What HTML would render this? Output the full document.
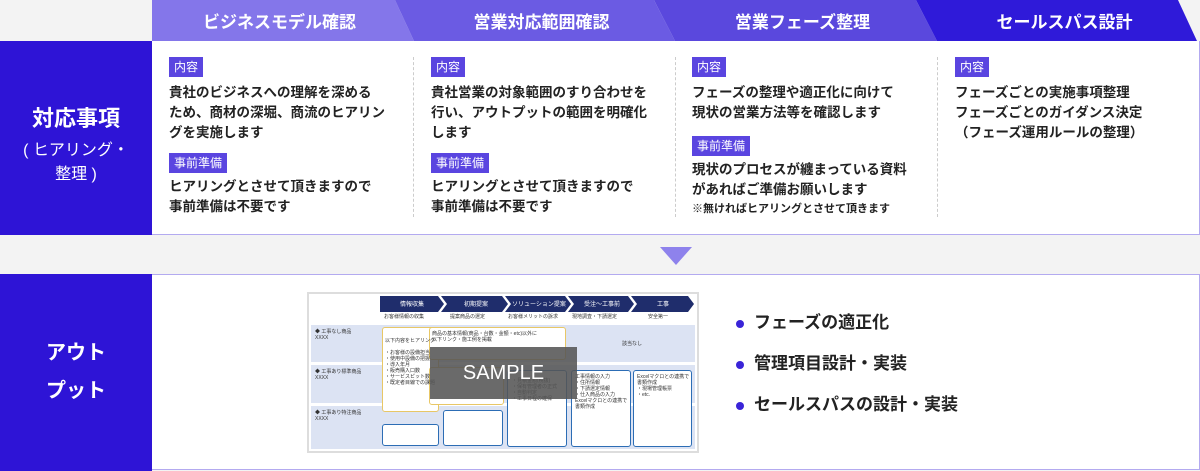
<!DOCTYPE html>
<html><head><meta charset="utf-8"><style>
*{margin:0;padding:0;box-sizing:border-box}
body{width:1200px;height:471px;background:#f3f3f3;font-family:"Liberation Sans","Noto Sans CJK JP",sans-serif;position:relative;overflow:hidden;color:#222}
.a{position:absolute}
.tab{position:absolute;top:0;height:41px;color:#fff;font-weight:bold;font-size:17px;display:flex;align-items:center;justify-content:center}
.badge{position:absolute;background:#5a45e0;color:#fff;font-size:12px;height:20px;line-height:20px;padding:0 5px}
.t{position:absolute;font-size:13.5px;font-weight:bold;line-height:20px;color:#222;white-space:nowrap}
.dv{position:absolute;top:57px;height:160px;border-left:1px dashed #ccc}
.s{position:absolute;font-size:5px;line-height:6px;color:#333;white-space:nowrap}
.card{position:absolute;background:#fff;border-radius:3px}
</style></head><body>
<svg class="a" style="left:0;top:0" width="1200" height="41">
<polygon points="152,0 395,0 414,41 152,41" fill="#8476ea"/>
<polygon points="395,0 654,0 675,41 414,41" fill="#6b5be3"/>
<polygon points="654,0 916,0 937,41 675,41" fill="#5a48dd"/>
<polygon points="916,0 1178,0 1197,41 937,41" fill="#2f1ad9"/>
</svg>
<div class="tab" style="left:152px;width:255px">ビジネスモデル確認</div>
<div class="tab" style="left:414px;width:255px">営業対応範囲確認</div>
<div class="tab" style="left:675px;width:255px">営業フェーズ整理</div>
<div class="tab" style="left:937px;width:255px">セールスパス設計</div>

<div class="a" style="left:0;top:41px;width:152px;height:194px;background:#2e14d6;color:#fff;text-align:center">
<div style="font-size:22px;font-weight:bold;margin-top:60px">対応事項</div>
<div style="font-size:16px;line-height:24px;margin-top:6px">( ヒアリング・<br>整理 )</div></div>
<div class="a" style="left:152px;top:41px;width:1048px;height:194px;background:#fff;border-bottom:1px solid #b3aaf0;border-right:1px solid #b3aaf0"></div>
<div class="dv" style="left:413px"></div><div class="dv" style="left:675px"></div><div class="dv" style="left:937px"></div>

<div class="badge" style="left:169px;top:57px">内容</div>
<div class="t" style="left:169px;top:83px">貴社のビジネスへの理解を深める<br>ため、商材の深堀、商流のヒアリン<br>グを実施します</div>
<div class="badge" style="left:169px;top:153px">事前準備</div>
<div class="t" style="left:169px;top:177px">ヒアリングとさせて頂きますので<br>事前準備は不要です</div>

<div class="badge" style="left:431px;top:57px">内容</div>
<div class="t" style="left:431px;top:83px">貴社営業の対象範囲のすり合わせを<br>行い、アウトプットの範囲を明確化<br>します</div>
<div class="badge" style="left:431px;top:153px">事前準備</div>
<div class="t" style="left:431px;top:177px">ヒアリングとさせて頂きますので<br>事前準備は不要です</div>

<div class="badge" style="left:692px;top:57px">内容</div>
<div class="t" style="left:692px;top:83px">フェーズの整理や適正化に向けて<br>現状の営業方法等を確認します</div>
<div class="badge" style="left:692px;top:136px">事前準備</div>
<div class="t" style="left:692px;top:160px">現状のプロセスが纏まっている資料<br>があればご準備お願いします</div>
<div class="t" style="left:692px;top:201px;font-size:11px;line-height:16px">※無ければヒアリングとさせて頂きます</div>

<div class="badge" style="left:955px;top:57px">内容</div>
<div class="t" style="left:955px;top:83px">フェーズごとの実施事項整理<br>フェーズごとのガイダンス決定<br>（フェーズ運用ルールの整理）</div>

<svg class="a" style="left:660px;top:247px" width="32" height="20"><polygon points="0,0 32,0 16,18" fill="#8e82ec"/></svg>

<div class="a" style="left:0;top:274px;width:152px;height:197px;background:#2e14d6;color:#fff;text-align:center;font-size:20px;font-weight:bold;line-height:38px;padding-top:60px">アウト<br>プット</div>
<div class="a" style="left:152px;top:274px;width:1048px;height:196px;background:#fff;border-top:1px solid #b3aaf0;border-bottom:1px solid #b3aaf0;border-right:1px solid #b3aaf0"></div>

<div class="a" style="left:307px;top:292px;width:392px;height:161px;background:#fff;border:2px solid #ddd"></div>
<svg class="a" style="left:380px;top:296px" width="315" height="18">
<g fill="#1f2d6c">
<polygon points="0,0 58,0 64,8 58,16 0,16"/>
<polygon points="61,0 122,0 128,8 122,16 61,16 67,8"/>
<polygon points="125,0 185,0 191,8 185,16 125,16 131,8"/>
<polygon points="188,0 248,0 254,8 248,16 188,16 194,8"/>
<polygon points="251,0 308,0 314,8 308,16 251,16 257,8"/>
</g>
<g fill="#fff" font-size="6" font-family="Liberation Sans,Noto Sans CJK JP,sans-serif" text-anchor="middle">
<text x="32" y="10">情報収集</text><text x="96" y="10">初期提案</text><text x="159" y="10">ソリューション提案</text><text x="222" y="10">受注～工事前</text><text x="283" y="10">工事</text></g></svg>
<div class="s" style="left:384px;top:314px">お客様情報の収集</div>
<div class="s" style="left:450px;top:314px">提案商品の選定</div>
<div class="s" style="left:508px;top:314px">お客様メリットの訴求</div>
<div class="s" style="left:572px;top:314px">現地調査・下請選定</div>
<div class="s" style="left:648px;top:314px">安全第一</div>
<div class="a" style="left:311px;top:325px;width:384px;height:37px;background:#dce3f3"></div>
<div class="a" style="left:311px;top:365px;width:384px;height:38px;background:#dce3f3"></div>
<div class="a" style="left:311px;top:406px;width:384px;height:43px;background:#dce3f3"></div>
<div class="s" style="left:315px;top:329px">◆ 工事なし商品<br>XXXX</div>
<div class="s" style="left:315px;top:369px">◆ 工事あり標準商品<br>XXXX</div>
<div class="s" style="left:315px;top:410px">◆ 工事あり特注商品<br>XXXX</div>
<div class="s" style="left:622px;top:341px">該当なし</div>
<div class="card" style="left:382px;top:327px;width:57px;height:85px;border:1px solid #e8c766"></div>
<div class="card" style="left:382px;top:424px;width:57px;height:22px;border:1.5px solid #2c6db5"></div>
<div class="card" style="left:429px;top:327px;width:137px;height:33px;border:1px solid #e8c766"></div>
<div class="card" style="left:429px;top:367px;width:75px;height:38px;border:1px solid #e8c766"></div>
<div class="card" style="left:443px;top:410px;width:60px;height:36px;border:1.5px solid #2c6db5"></div>
<div class="card" style="left:507px;top:370px;width:60px;height:77px;border:1.5px solid #2c6db5"></div>
<div class="card" style="left:571px;top:370px;width:60px;height:77px;border:1.5px solid #2c6db5"></div>
<div class="card" style="left:633px;top:370px;width:59px;height:77px;border:1.5px solid #2c6db5"></div>
<div class="s" style="left:385px;top:338px">以下内容をヒアリング<br><br>・お客様の設備担当<br>・使用中設備の把握<br>・導入年月<br>・販売購入口数<br>・サービスピット数<br>・既定者目線での課題</div>
<div class="s" style="left:432px;top:331px">商品の基本情報(商品・台数・金額・etc)以外に<br>以下リンク・施工例を掲載</div>
<div class="s" style="left:575px;top:374px">工事情報の入力<br>・住所情報<br>・下請選定情報<br>・仕入商品の入力<br>Excelマクロとの連携で<br>書類作成</div>
<div class="s" style="left:637px;top:374px">Excelマクロとの連携で<br>書類作成<br>・現場管理帳票<br>・etc.</div>
<div class="s" style="left:512px;top:378px">・見積金額(税抜)<br>・保有管理者の正式<br>・自動判定<br>・工事日程の確保</div>
<div class="a" style="left:430px;top:347px;width:147px;height:52px;background:rgba(85,85,85,0.88);color:#fff;font-size:20px;display:flex;align-items:center;justify-content:center">SAMPLE</div>

<div class="a" style="left:736px;top:312px;font-size:17px;font-weight:bold;line-height:22px;color:#222">
<div style="position:relative;padding-left:18px;margin-bottom:19px"><span style="position:absolute;left:0;top:8px;width:8px;height:8px;border-radius:50%;background:#3a24d8"></span>フェーズの適正化</div>
<div style="position:relative;padding-left:18px;margin-bottom:19px"><span style="position:absolute;left:0;top:8px;width:8px;height:8px;border-radius:50%;background:#3a24d8"></span>管理項目設計・実装</div>
<div style="position:relative;padding-left:18px"><span style="position:absolute;left:0;top:8px;width:8px;height:8px;border-radius:50%;background:#3a24d8"></span>セールスパスの設計・実装</div>
</div>
</body></html>
